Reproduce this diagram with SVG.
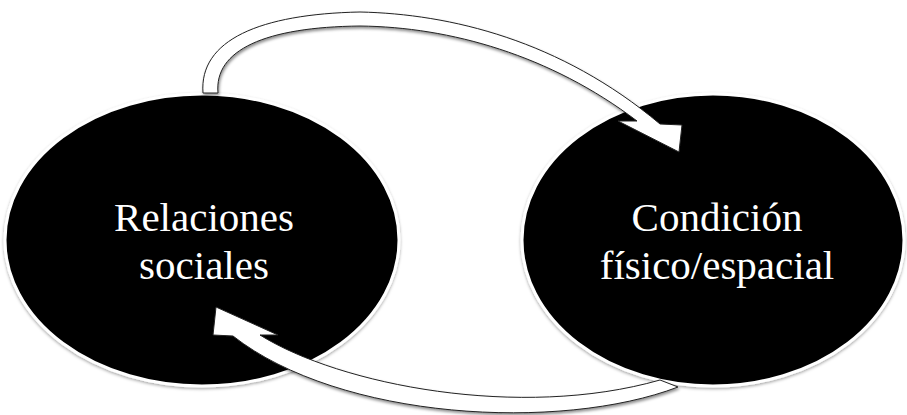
<svg xmlns="http://www.w3.org/2000/svg" width="907" height="415" viewBox="0 0 907 415">
  <defs>
    <filter id="soft" x="-10%" y="-10%" width="120%" height="120%">
      <feDropShadow dx="0" dy="1.5" stdDeviation="1.5" flood-color="#000" flood-opacity="0.35"/>
    </filter>
    <filter id="arrowShadow" x="-10%" y="-10%" width="120%" height="120%">
      <feDropShadow dx="1" dy="2" stdDeviation="1.5" flood-color="#000" flood-opacity="0.45"/>
    </filter>
  </defs>
  <style>
    .node { fill: #000; stroke: #fff; stroke-width: 3; filter: url(#soft); }
    .label { fill: #fff; font-family: "Liberation Serif", "Times New Roman", serif; font-size: 41px; text-anchor: middle; }
    .arrow { fill: #fff; stroke: #222; stroke-width: 1; stroke-linejoin: miter; filter: url(#arrowShadow); }
  </style>

  <g id="relaciones-sociales">
    <ellipse class="node" cx="202" cy="240" rx="197" ry="146"/>
    <text class="label" x="204" y="231">Relaciones</text>
    <text class="label" x="204" y="279">sociales</text>
  </g>

  <g id="condicion-fisico-espacial">
    <ellipse class="node" cx="713" cy="240" rx="191" ry="146"/>
    <text class="label" x="717" y="231">Condición</text>
    <text class="label" x="717" y="279">físico/espacial</text>
  </g>

  <g id="connectors">
    <!-- upper arc: social relations -> physical/spatial condition -->
    <path class="arrow" d="M203,93 C199,40 260,14 360,12 C450,14 560,40 660,124 L682,125 L679,152 L618,121 L637,121 C550,55 450,27 360,26 C265,27 214,50 218,93 Z"/>
    <!-- lower arc: physical/spatial condition -> social relations -->
    <path class="arrow" d="M216,307 L278,335 L260,335 C340,385 520,420 660,380 L678,387 C560,432 340,420 233,336 L213,335 Z"/>
  </g>
</svg>
